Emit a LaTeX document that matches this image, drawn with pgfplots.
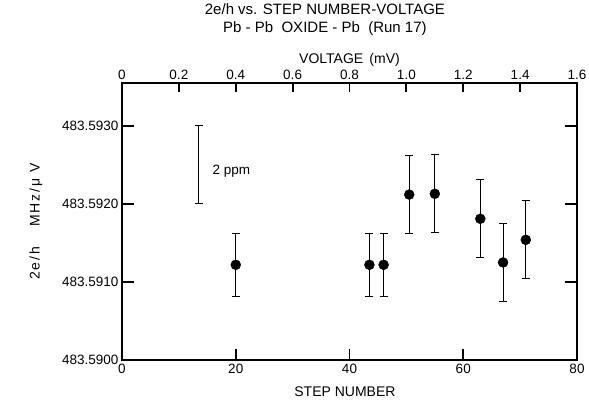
\documentclass[border=0pt]{standalone}
\usepackage{fontspec}
\setmainfont{Liberation Sans}
\usepackage{pgfplots}
\pgfplotsset{compat=1.18}
\begin{document}
\begin{tikzpicture}
% y values are given as offsets in units of 0.0001 above 483.5900 (2e/h in MHz/uV)
% top voltage scale: 0.2 mV corresponds to 10 steps
\begin{axis}[
  name=ax,
  width=455pt, height=277pt, scale only axis,
  xmin=0, xmax=80, ymin=0, ymax=35.5,
  axis line style={line width=1.2pt},
  major tick length=0pt,
  xtick={0,20,40,60,80},
  ytick={0,10,20,30},
  xtick pos=lower, ytick pos=left,
  xticklabel pos=lower, yticklabel pos=left,
  yticklabels={483.5900,483.5910,483.5920,483.5930},
  extra x ticks={0,10,20,30,40,50,60,70,80},
  extra x tick labels={0,0.2,0.4,0.6,0.8,1.0,1.2,1.4,1.6},
  extra x tick style={xtick pos=upper, xticklabel pos=upper, major tick length=0pt,
     xticklabel style={yshift=1pt}},
  ticklabel style={font=\fontsize{13.5}{15}\selectfont},
  /pgf/number format/assume math mode=true,
  xticklabel style={yshift=-1pt},
  xlabel={STEP NUMBER},
  xlabel style={at={(axis description cs:0.49,0)}, anchor=center, yshift=-32pt, font=\fontsize{14}{16}\selectfont},
  ylabel={2e/h \quad MHz/μ\ V},
  ylabel style={at={(axis description cs:0,0.5)}, anchor=center, yshift=86pt, font=\fontsize{14}{16}\selectfont\addfontfeatures{LetterSpace=14}},
  title={2e/h vs. STEP NUMBER-VOLTAGE\\Pb - Pb \ OXIDE - Pb \ (Run 17)},
  title style={at={(axis description cs:0.446,1)}, anchor=south, yshift=41pt, inner sep=0pt, align=center, font=\fontsize{15}{18}\selectfont},
  clip=false,
]
\addplot[only marks, mark=*, mark size=5pt, black, mark options={fill=black},
  error bars/.cd, y dir=both, y explicit,
  error bar style={line width=1pt, black, solid},
  error mark options={line width=1pt, mark size=4pt, black, rotate=90}]
  coordinates {
  (20,12.2) +- (0,4)
  (43.5,12.2) +- (0,4)
  (46,12.2) +- (0,4)
  (50.5,21.2) +- (0,5)
  (55,21.3) +- (0,5)
  (63,18.1) +- (0,5)
  (67,12.5) +- (0,5)
  (71,15.4) +- (0,5)
};
% 2 ppm scale bar
\addplot[mark=none, draw=none, forget plot,
  error bars/.cd, y dir=both, y explicit,
  error bar style={line width=1pt, draw=black, solid},
  error mark options={line width=1pt, mark size=4pt, draw=black, rotate=90}]
  coordinates {(13.5,25) +- (0,5)};
\node[anchor=west, font=\fontsize{13.5}{15}\selectfont] at (axis cs:15.3,24.2) {2 ppm};
\node[font=\fontsize{14}{16}\selectfont] at (rel axis cs:0.5,1) [yshift=23pt] {VOLTAGE \,(mV)};
% tick marks (inside)
\draw[line width=1.8pt] (axis cs:20,0) -- ++(0,11pt);
\draw[line width=1.8pt] (axis cs:40,0) -- ++(0,11pt);
\draw[line width=1.8pt] (axis cs:60,0) -- ++(0,11pt);
\draw[line width=1.8pt] (axis cs:0,10) -- ++(12pt,0);
\draw[line width=1.8pt] (axis cs:0,20) -- ++(12pt,0);
\draw[line width=1.8pt] (axis cs:0,30) -- ++(12pt,0);
\draw[line width=1.8pt] (axis cs:80,10) -- ++(-12pt,0);
\draw[line width=1.8pt] (axis cs:80,20) -- ++(-12pt,0);
\draw[line width=1.8pt] (axis cs:80,30) -- ++(-12pt,0);
\draw[line width=1.8pt] (axis cs:10,35.5) -- ++(0,-9pt);
\draw[line width=1.8pt] (axis cs:20,35.5) -- ++(0,-9pt);
\draw[line width=1.8pt] (axis cs:30,35.5) -- ++(0,-9pt);
\draw[line width=1.8pt] (axis cs:40,35.5) -- ++(0,-9pt);
\draw[line width=1.8pt] (axis cs:50,35.5) -- ++(0,-9pt);
\draw[line width=1.8pt] (axis cs:60,35.5) -- ++(0,-9pt);
\draw[line width=1.8pt] (axis cs:70,35.5) -- ++(0,-9pt);
\end{axis}
\pgfresetboundingbox
\path[use as bounding box] ([shift={(-122pt,-42pt)}]ax.south west) rectangle ([shift={(12pt,83pt)}]ax.north east);
\end{tikzpicture}
\end{document}
